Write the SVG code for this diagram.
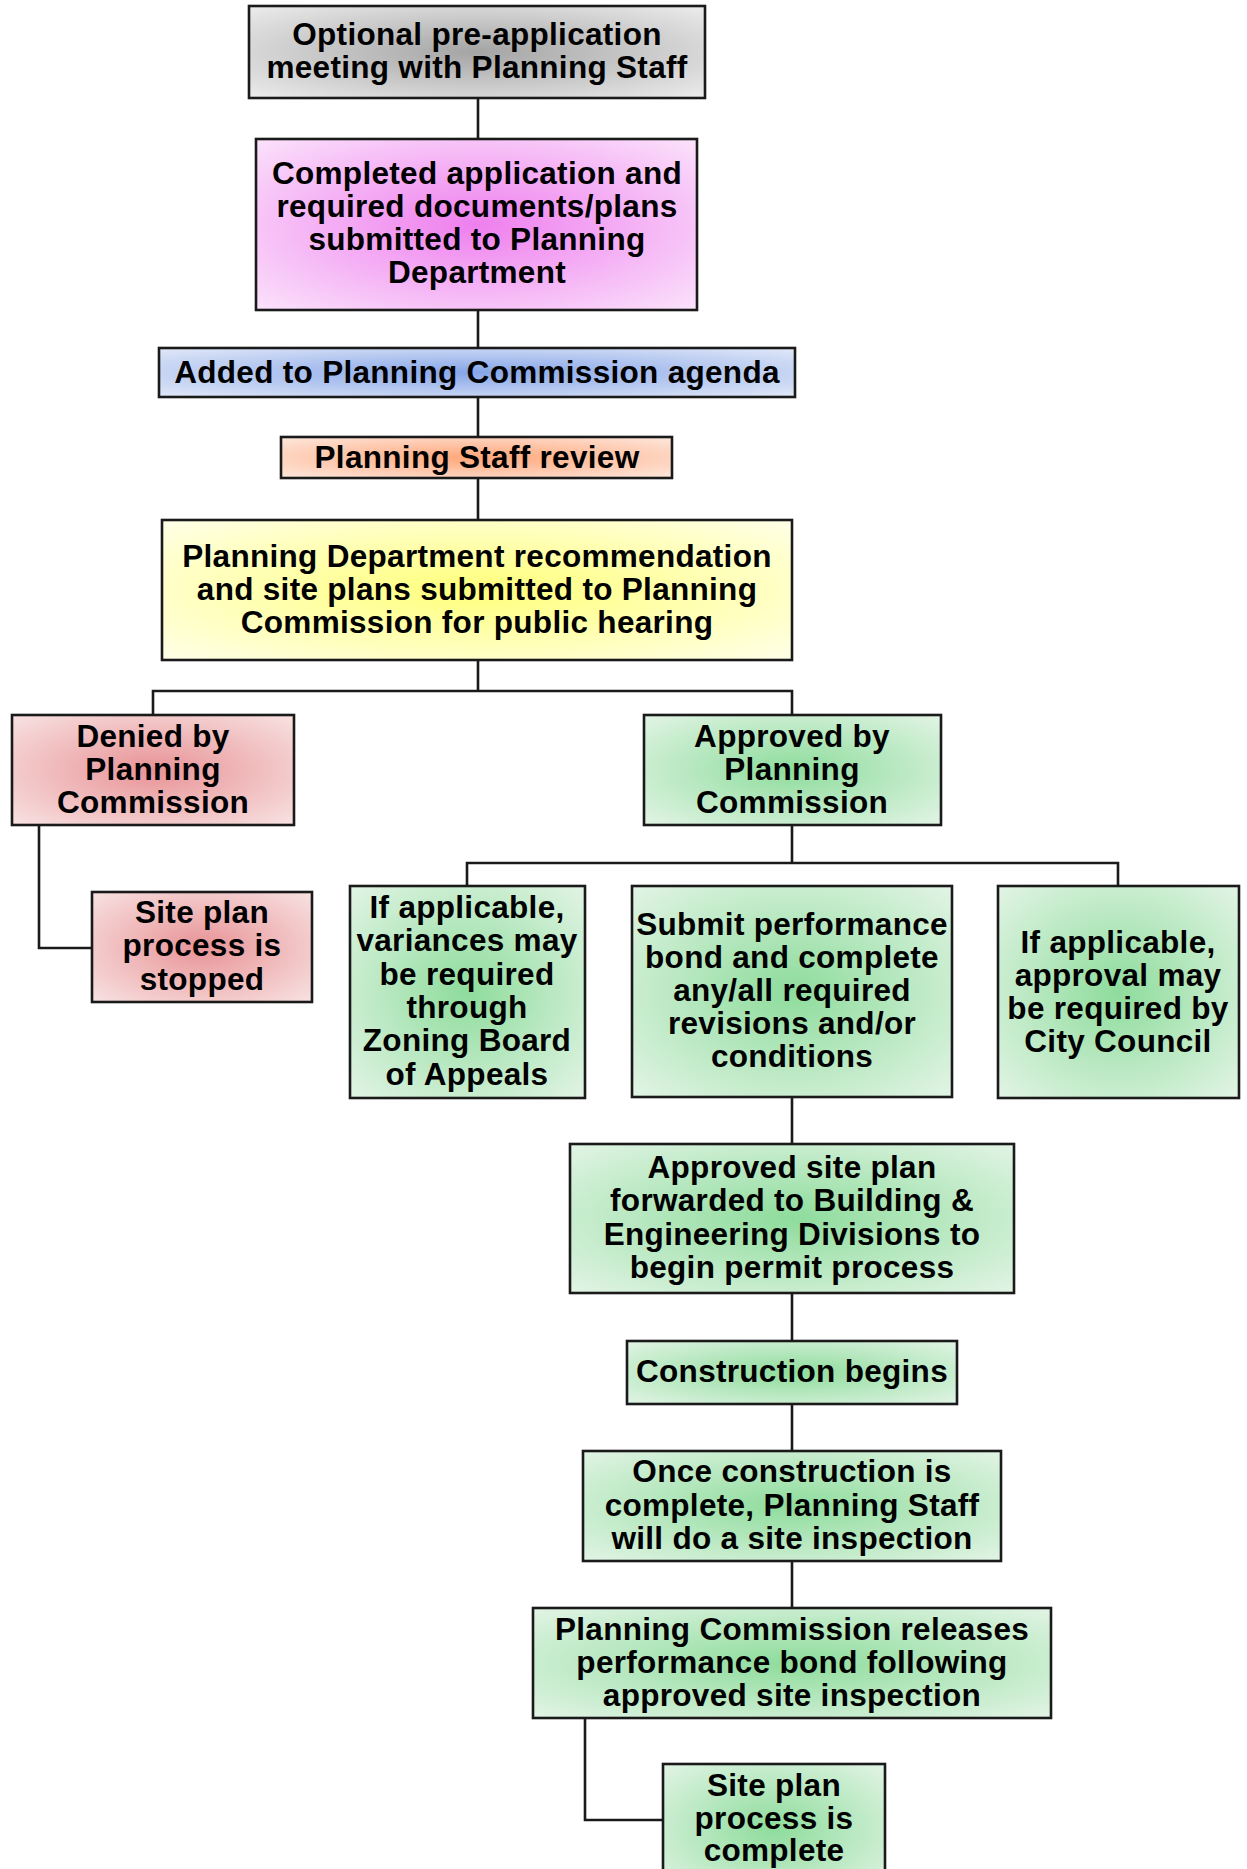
<svg xmlns="http://www.w3.org/2000/svg" width="1247" height="1869" viewBox="0 0 1247 1869">
<defs>
<radialGradient id="gGray" cx="0.5" cy="0.5" r="0.7"><stop offset="0" stop-color="#a4a4a4"/><stop offset="1" stop-color="#ececec"/></radialGradient>
<radialGradient id="gPink" cx="0.5" cy="0.5" r="0.7"><stop offset="0" stop-color="#ee7fee"/><stop offset="1" stop-color="#fbe2fb"/></radialGradient>
<radialGradient id="gBlue" cx="0.5" cy="0.5" r="0.7"><stop offset="0" stop-color="#86a5e8"/><stop offset="1" stop-color="#e2e9f8"/></radialGradient>
<radialGradient id="gOrange" cx="0.5" cy="0.5" r="0.7"><stop offset="0" stop-color="#ffa679"/><stop offset="1" stop-color="#fde8de"/></radialGradient>
<radialGradient id="gYellow" cx="0.5" cy="0.5" r="0.7"><stop offset="0" stop-color="#ffff7a"/><stop offset="1" stop-color="#ffffe8"/></radialGradient>
<radialGradient id="gRed" cx="0.5" cy="0.5" r="0.7"><stop offset="0" stop-color="#e89396"/><stop offset="1" stop-color="#f8e2e2"/></radialGradient>
<radialGradient id="gGreen" cx="0.5" cy="0.5" r="0.7"><stop offset="0" stop-color="#8edc9c"/><stop offset="1" stop-color="#e2f4e5"/></radialGradient>
<style>
.box{stroke:#1a1a1a;stroke-width:2.6}
.conn{stroke:#1a1a1a;stroke-width:2.6;fill:none}
text{font-family:"Liberation Sans",Arial,sans-serif;font-weight:bold;font-size:31.5px;letter-spacing:0.3px;fill:#000;text-anchor:middle}
</style>
</defs>
<g id="connectors">
<path class="conn" d="M478 98V139M478 310V348M478 397V437M478 478V520M478 660V691M153 715V691H792V715"/>
<path class="conn" d="M39 825V948H92"/>
<path class="conn" d="M792 825V863M467 886V863H1118V886"/>
<path class="conn" d="M792 1097V1144M792 1293V1341M792 1404V1451M792 1561V1608"/>
<path class="conn" d="M585 1718V1820H663"/>
</g>
<g id="n1"><rect class="box" x="249" y="6" width="456" height="92" fill="url(#gGray)"/>
<text x="477" y="45">Optional pre-application</text><text x="477" y="78">meeting with Planning Staff</text></g>
<g id="n2"><rect class="box" x="256" y="139" width="441" height="171" fill="url(#gPink)"/>
<text x="477" y="184">Completed application and</text><text x="477" y="217">required documents/plans</text><text x="477" y="250">submitted to Planning</text><text x="477" y="283">Department</text></g>
<g id="n3"><rect class="box" x="159" y="348" width="636" height="49" fill="url(#gBlue)"/>
<text x="477" y="383">Added to Planning Commission agenda</text></g>
<g id="n4"><rect class="box" x="281" y="437" width="391" height="41" fill="url(#gOrange)"/>
<text x="477" y="468">Planning Staff review</text></g>
<g id="n5"><rect class="box" x="162" y="520" width="630" height="140" fill="url(#gYellow)"/>
<text x="477" y="567">Planning Department recommendation</text><text x="477" y="600">and site plans submitted to Planning</text><text x="477" y="633">Commission for public hearing</text></g>
<g id="n6"><rect class="box" x="12" y="715" width="282" height="110" fill="url(#gRed)"/>
<text x="153" y="747">Denied by</text><text x="153" y="780">Planning</text><text x="153" y="813">Commission</text></g>
<g id="n7"><rect class="box" x="644" y="715" width="297" height="110" fill="url(#gGreen)"/>
<text x="792" y="747">Approved by</text><text x="792" y="780">Planning</text><text x="792" y="813">Commission</text></g>
<g id="n8"><rect class="box" x="92" y="892" width="220" height="110" fill="url(#gRed)"/>
<text x="202" y="923">Site plan</text><text x="202" y="956">process is</text><text x="202" y="990">stopped</text></g>
<g id="n9"><rect class="box" x="350" y="886" width="235" height="212" fill="url(#gGreen)"/>
<text x="467" y="918">If applicable,</text><text x="467" y="951">variances may</text><text x="467" y="985">be required</text><text x="467" y="1018">through</text><text x="467" y="1051">Zoning Board</text><text x="467" y="1085">of Appeals</text></g>
<g id="n10"><rect class="box" x="632" y="886" width="320" height="211" fill="url(#gGreen)"/>
<text x="792" y="935">Submit performance</text><text x="792" y="968">bond and complete</text><text x="792" y="1001">any/all required</text><text x="792" y="1034">revisions and/or</text><text x="792" y="1067">conditions</text></g>
<g id="n11"><rect class="box" x="998" y="886" width="241" height="212" fill="url(#gGreen)"/>
<text x="1118" y="953">If applicable,</text><text x="1118" y="986">approval may</text><text x="1118" y="1019">be required by</text><text x="1118" y="1052">City Council</text></g>
<g id="n12"><rect class="box" x="570" y="1144" width="444" height="149" fill="url(#gGreen)"/>
<text x="792" y="1178">Approved site plan</text><text x="792" y="1211">forwarded to Building &amp;</text><text x="792" y="1245">Engineering Divisions to</text><text x="792" y="1278">begin permit process</text></g>
<g id="n13"><rect class="box" x="627" y="1341" width="330" height="63" fill="url(#gGreen)"/>
<text x="792" y="1382">Construction begins</text></g>
<g id="n14"><rect class="box" x="583" y="1451" width="418" height="110" fill="url(#gGreen)"/>
<text x="792" y="1482">Once construction is</text><text x="792" y="1516">complete, Planning Staff</text><text x="792" y="1549">will do a site inspection</text></g>
<g id="n15"><rect class="box" x="533" y="1608" width="518" height="110" fill="url(#gGreen)"/>
<text x="792" y="1640">Planning Commission releases</text><text x="792" y="1673">performance bond following</text><text x="792" y="1706">approved site inspection</text></g>
<g id="n16"><rect class="box" x="663" y="1764" width="222" height="130" fill="url(#gGreen)"/>
<text x="774" y="1796">Site plan</text><text x="774" y="1829">process is</text><text x="774" y="1861">complete</text></g>
</svg>
